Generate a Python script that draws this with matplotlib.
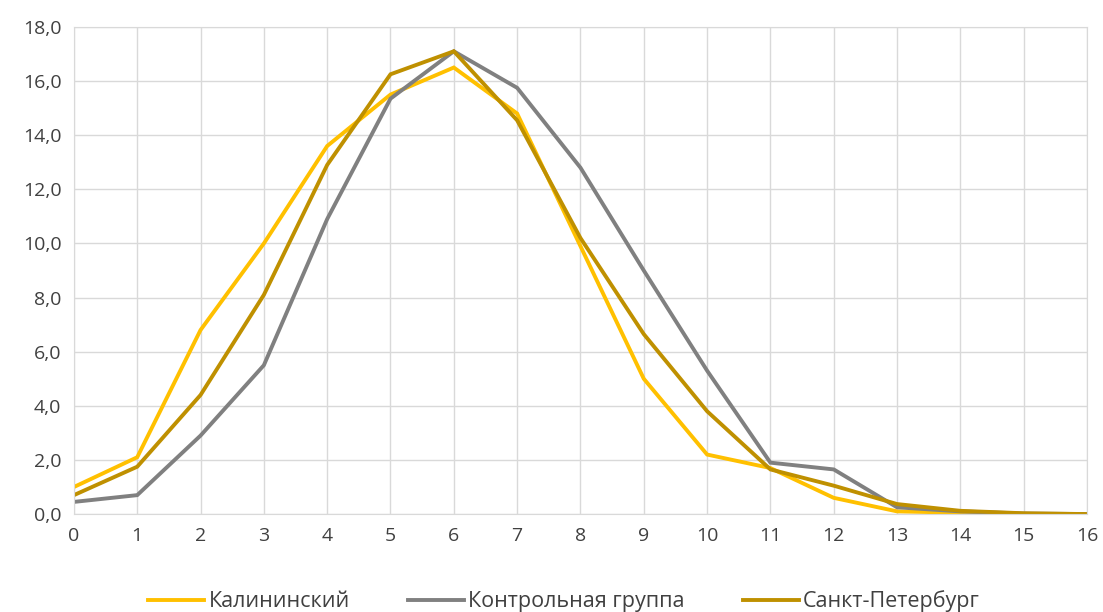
import numpy as np
import matplotlib.pyplot as plt
from matplotlib.ticker import FuncFormatter, MultipleLocator

plt.rcParams['font.family'] = ['Open Sans', 'DejaVu Sans']

x = np.arange(0, 17)
kalininsky = [1.0, 2.1, 6.8, 10.0, 13.6, 15.5, 16.5, 14.8, 9.9, 5.0, 2.2, 1.7, 0.6, 0.1, 0.05, 0.0, 0.0]
control = [0.45, 0.7, 2.9, 5.5, 10.9, 15.35, 17.1, 15.75, 12.8, 9.0, 5.3, 1.9, 1.65, 0.25, 0.1, 0.02, 0.0]
spb = [0.7, 1.75, 4.4, 8.1, 12.9, 16.25, 17.1, 14.55, 10.2, 6.65, 3.8, 1.65, 1.05, 0.37, 0.12, 0.03, 0.0]

labels = ['Калининский', 'Контрольная группа', 'Санкт-Петербург']
colors = ['#FFC000', '#808080', '#BF9000']

fig, ax = plt.subplots(figsize=(11.03, 6.12), dpi=100)
fig.subplots_adjust(left=0.067, right=0.9855, top=0.956, bottom=0.160)

for series, lab, col in zip([kalininsky, control, spb], labels, colors):
    ax.plot(x, series, color=col, linewidth=2.8, label=lab, solid_joinstyle='miter')

ax.set_xlim(0, 16)
ax.set_ylim(0, 18)
ax.xaxis.set_major_locator(MultipleLocator(1))
ax.yaxis.set_major_locator(MultipleLocator(2))
ax.yaxis.set_major_formatter(FuncFormatter(lambda v, p: f'{v:.1f}'.replace('.', ',')))

ax.grid(True, color='#D9D9D9', linewidth=1)
ax.set_axisbelow(True)
for s in ax.spines.values():
    s.set_color('#D9D9D9')
ax.tick_params(length=0, labelsize=14, colors='#404040', pad=9)

fig.legend(loc='lower center', bbox_to_anchor=(0.5115, -0.032), ncol=3, frameon=False,
           fontsize=15.5, handlelength=2.6, columnspacing=2.7, handletextpad=0.2,
           labelcolor='#404040')

plt.savefig('out.png', dpi=100)
